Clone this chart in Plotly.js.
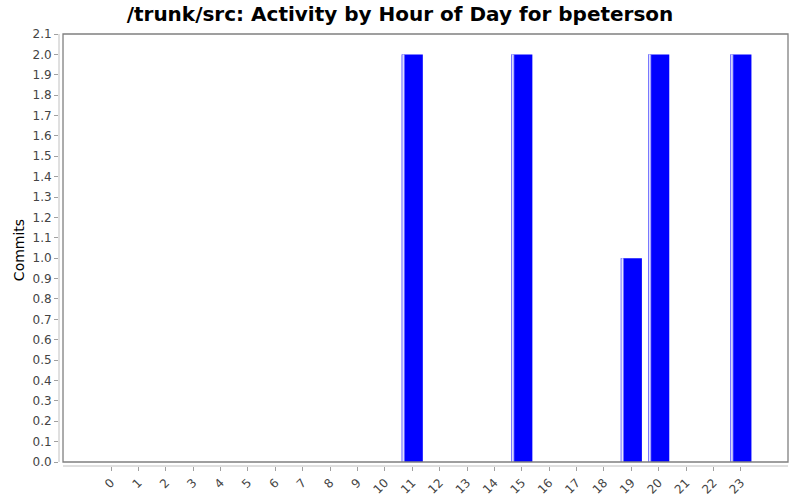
<!DOCTYPE html>
<html>
<head>
<meta charset="utf-8">
<script src="https://cdn.plot.ly/plotly-3.0.1.min.js"></script>
<style>
  body { margin: 0; background: #fff; }
  #chart_myDiv { width: 800px; height: 500px; }
</style>
</head>
<body>
<div id="chart_myDiv"></div>
<script>
// activity by hour data
var hours = ['0','1','2','3','4','5','6','7','8','9','10','11','12','13','14','15','16','17','18','19','20','21','22','23'];
var commits = [0,0,0,0,0,0,0,0,0,0,0,2,0,0,0,2,0,0,0,1,2,0,0,2];

var chartTitle = '/trunk/src: Activity by Hour of Day for bpeterson';
var yTitle = 'Commits';

var barColor = '#0000ff';
var fontName = 'DejaVu Sans, Liberation Sans, sans-serif';

// main bars + the light stripe on the left side of each bar
var mainBar = {x: hours, y: commits, type: 'bar', width: 0.77,
  marker: {color: barColor, line: {width: 0}}, hoverinfo: 'x+y'};
var edgeBar = {x: hours, y: commits, type: 'bar', width: 0.11, offset: -0.385,
  marker: {color: '#8a8aff', line: {width: 0}}, hoverinfo: 'skip'};
var shineBar = {x: hours, y: commits, type: 'bar', width: 0.04, offset: -0.35,
  marker: {color: '#f4f4ff', line: {width: 0}}, hoverinfo: 'skip'};

var layout = {
  width: 800,
  height: 500,
  margin: {l: 59, r: 12, t: 34, b: 34},
  paper_bgcolor: '#ffffff',
  plot_bgcolor: '#ffffff',
  showlegend: false,
  barmode: 'overlay',
  font: {family: fontName, size: 12, color: '#444444'},
  title: {text: '<b>' + chartTitle + '</b>', x: 0.5, xanchor: 'center', y: 0.972, yanchor: 'middle',
    font: {family: fontName, size: 20, color: '#000000'}},
  xaxis: {
    type: 'category',
    range: [-1.9, 24.72],
    showgrid: false, zeroline: false, showline: false,
    ticks: 'outside', ticklen: 4, tickcolor: '#a0a0a0',
    tickangle: -45,
    tickfont: {family: fontName, size: 12, color: '#444444'}
  },
  yaxis: {
    range: [-0.0196, 2.1],
    dtick: 0.1, tick0: 0, tickformat: '.1f',
    showgrid: false, zeroline: false, showline: false,
    ticks: 'outside', ticklen: 4, tickcolor: '#a0a0a0',
    tickfont: {family: fontName, size: 12, color: '#444444'},
    title: {text: yTitle, standoff: 4, font: {family: fontName, size: 14, color: '#000000'}}
  },
  shapes: [
    // plot frame
    {type: 'rect', xref: 'paper', yref: 'paper', x0: 0.0055, y0: 0.0093, x1: 1, y1: 1,
      line: {color: '#808080', width: 1.3}, fillcolor: 'rgba(0,0,0,0)'},
    // y axis line
    {type: 'line', xref: 'paper', yref: 'paper', x0: 0, y0: 0.0093, x1: 0, y1: 1,
      line: {color: '#c0c0c0', width: 1}},
    // x axis line
    {type: 'line', xref: 'paper', yref: 'paper', x0: 0.0055, y0: 0, x1: 1, y1: 0,
      line: {color: '#c0c0c0', width: 1}}
  ]
};

Plotly.newPlot('chart_myDiv', [mainBar, edgeBar, shineBar], layout, {displayModeBar: false, staticPlot: true});
</script>
</body>
</html>
